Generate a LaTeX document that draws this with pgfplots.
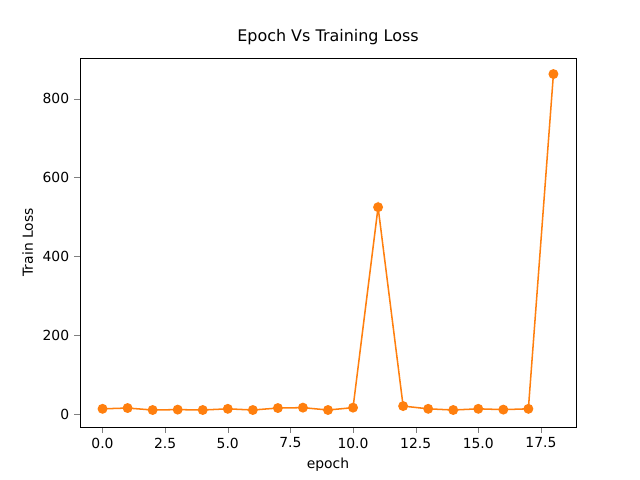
\documentclass[border=0pt]{standalone}
\usepackage{pgfplots}
\pgfplotsset{compat=1.18}
\usepackage{fontspec}
\setmainfont{DejaVu Sans}
\begin{document}
\begin{tikzpicture}
\path[use as bounding box] (-57.6pt,-38.2pt) rectangle (403.2pt,307.4pt);
\begin{axis}[
  at={(0,0)}, anchor=south west,
  scale only axis, width=357.1pt, height=265.7pt,
  xmin=-0.9, xmax=18.9, ymin=-33, ymax=904,
  xtick={0,2.5,5,7.5,10,12.5,15,17.5},
  xticklabels={0.0,2.5,5.0,7.5,10.0,12.5,15.0,17.5},
  ytick={0,200,400,600,800},
  tick align=outside, tick pos=left,
  /pgf/number format/assume math mode=true,
  ticklabel style={font=\fontsize{10}{12}\selectfont},
  label style={font=\fontsize{10}{12}\selectfont},
  xlabel={epoch}, ylabel={Train Loss},
  title={Epoch Vs Training Loss},
  title style={font=\fontsize{11.5}{14}\selectfont},
]
\addplot[color={rgb,255:red,255;green,127;blue,14}, line width=1.1pt, mark=*, mark size=3pt] coordinates {
(0,13) (1,15) (2,10) (3,11) (4,10) (5,13) (6,10) (7,15) (8,16) (9,10) (10,16) (11,525) (12,20) (13,13) (14,10) (15,13) (16,11) (17,13) (18,863)
};
\end{axis}
\end{tikzpicture}
\end{document}
